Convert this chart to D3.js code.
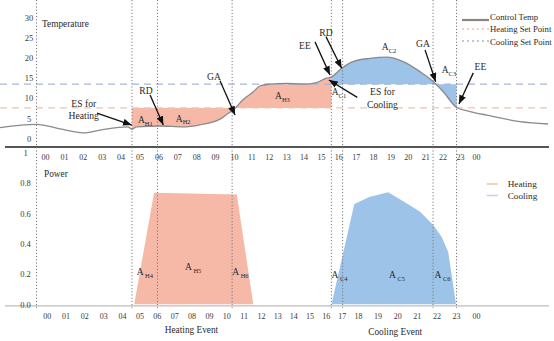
<!DOCTYPE html>
<html>
<head>
<meta charset="utf-8">
<script src="https://cdn.jsdelivr.net/npm/d3@7"></script>
<style>
  html, body { margin: 0; padding: 0; background: #fff; }
  svg { display: block; font-family: "Liberation Serif", "DejaVu Serif", serif; }
</style>
</head>
<body>
<svg id="chart" width="554" height="341"></svg>
<script>
// ---- data ----------------------------------------------------------
// Control temperature over the day (hour of day, temperature)
const tempHours  = [-2.38, -0.44, 0.79, 2.01, 2.91, 4.39, 4.60, 4.85, 6.08, 7.30, 8.20, 9.26, 9.68, 9.96,
                    10.53, 11.11, 11.50, 12.07, 13.03, 13.99, 14.75, 15.33, 15.57, 16.18, 16.85, 17.81,
                    18.78, 19.73, 20.70, 21.47, 22.04, 22.81, 23.63, 24.67, 26.75, 28.50];
const tempValues = [2.7, 3.5, 2.4, 1.4, 2.1, 2.9, 2.3, 2.9, 3.1, 2.9, 3.4, 4.8, 6.2, 7.1,
                    9.7, 11.6, 13.1, 13.5, 13.7, 13.5, 13.9, 15.0, 15.2, 17.4, 19.1, 19.9,
                    20.2, 19.1, 16.6, 14.1, 11.6, 7.7, 6.7, 5.8, 4.2, 3.6];
const heatingSetPoint = 7.6;
const coolingSetPoint = 13.5;

// Event boundaries (hours): axis, ES/RD/GA for heating, EE/RD for cooling, GA, EE
const eventHours = [-0.45, 4.6, 5.95, 9.9, 15.6, 16.25, 21.45, 22.8];
const heatingSpan = [4.6, 15.6];
const coolingSpan = [15.6, 22.8];

// Power draw of the heating and cooling events
const heatHours  = [4.72, 5.77, 10.16, 11.11];
const heatPower  = [0, 0.735, 0.724, 0];
const coolHours  = [15.61, 16.92, 17.82, 18.87, 19.92, 20.69, 21.46, 21.94, 22.32, 22.77];
const coolPower  = [0, 0.662, 0.710, 0.739, 0.667, 0.612, 0.523, 0.446, 0.347, 0];

// Tick labels
const hourTicks  = d3.range(0, 25);
const tempTicks  = [0, 5, 10, 15, 20, 25, 30];
const powerTicks = [0, 0.2, 0.4, 0.6, 0.8, 1];

// Area labels: [main, subscript, hour, value]
const tempAreaLabels = [
  ["A", "H1", 4.92, 4.6], ["A", "H2", 6.92, 5.0], ["A", "H3", 12.36, 10.6],
  ["A", "C1", 15.62, 11.6], ["A", "C2", 18.5, 22.8], ["A", "C3", 21.95, 17.0]
];
const powerAreaLabels = [
  ["A", "H4", 4.85, 0.213], ["A", "H5", 7.41, 0.248], ["A", "H6", 9.91, 0.215],
  ["A", "C4", 15.61, 0.193], ["A", "C5", 18.92, 0.193], ["A", "C6", 21.54, 0.193]
];

// Arrow annotations on the temperature panel
const annotations = [
  { text: ["ES for", "Heating"], x: 2.05,  y: [8.6, 5.8],  from: [2.75, 6.3],   to: [4.59, 3.35] },
  { text: ["RD"],                x: 5.34,  y: [12.0],      from: [5.56, 10.8],  to: [6.26, 3.35] },
  { text: ["GA"],                x: 8.94,  y: [15.35],     from: [9.26, 14.35], to: [10.06, 5.84] },
  { text: ["EE"],                x: 14.08, y: [22.97],     from: [14.66, 24.0], to: [15.52, 15.77] },
  { text: ["RD"],                x: 15.29, y: [26.37],     from: [15.29, 25.3], to: [16.19, 17.43] },
  { text: ["ES for", "Cooling"], x: 18.54, y: [11.6, 8.3], from: [17.09, 10.2], to: [15.46, 14.53] },
  { text: ["GA"],                x: 20.87, y: [23.64],     from: [20.99, 22.0], to: [21.6, 14.1] },
  { text: ["EE"],                x: 24.28, y: [17.83],     from: [23.83, 16.3], to: [22.94, 8.57] }
];

// ---- scales --------------------------------------------------------
const W = 554, H = 341;
const FONT = "'Liberation Serif', 'DejaVu Serif', serif";
const xTime   = d3.scaleLinear().domain([0, 10, 23, 24]).range([45, 234, 460, 476]);
const xBottom = d3.scaleLinear().domain([0, 4, 12, 18, 23, 24]).range([46.7, 122, 261, 358, 456, 476]);
const yTemp   = d3.scaleLinear().domain([0, 30]).range([138.5, 17.7]);
const yPow    = d3.scaleLinear().domain([0, 1]).range([304.3, 152.7]);

const C = {
  heatFill: "#f6b9a8",
  coolFill: "#9dc4e8",
  heatSet: "#f3c1b1",
  coolSet: "#aab4da",
  curve: "#8a8a8a",
  text: "#2a2a2a",
  tick: "#3a3a3a"
};

const svg = d3.select("#chart");
const hourFmt = h => String(h % 24).padStart(2, "0");

const defs = svg.append("defs");
defs.append("marker")
  .attr("id", "arrow").attr("viewBox", "0 0 10 8")
  .attr("refX", 10).attr("refY", 4)
  .attr("markerWidth", 9).attr("markerHeight", 7)
  .attr("markerUnits", "userSpaceOnUse")
  .attr("orient", "auto")
  .append("path").attr("d", "M0,0 L10,4 L0,8 Z").attr("fill", "#111");

function clipSpan(id, span) {
  defs.append("clipPath").attr("id", id)
    .append("rect")
    .attr("x", xTime(span[0])).attr("y", 0)
    .attr("width", xTime(span[1]) - xTime(span[0])).attr("height", H);
}
clipSpan("clip-heat", heatingSpan);
clipSpan("clip-cool", coolingSpan);

// ---- temperature panel --------------------------------------------
const tempData = tempHours.map((h, i) => ({ h, v: tempValues[i] }));

const areaTo = sp => d3.area()
  .x(d => xTime(d.h))
  .y0(yTemp(sp))
  .y1(d => yTemp(d.v))
  .curve(d3.curveMonotoneX);

svg.append("path").datum(tempData)
  .attr("d", areaTo(heatingSetPoint))
  .attr("fill", C.heatFill)
  .attr("clip-path", "url(#clip-heat)");
svg.append("path").datum(tempData)
  .attr("d", areaTo(coolingSetPoint))
  .attr("fill", C.coolFill)
  .attr("clip-path", "url(#clip-cool)");

// set point lines
const xExt = d3.extent(tempHours);
[[heatingSetPoint, C.heatSet], [coolingSetPoint, C.coolSet]].forEach(([sp, col]) => {
  svg.append("line")
    .attr("x1", xTime(xExt[0])).attr("x2", xTime(xExt[1]) + 2)
    .attr("y1", yTemp(sp)).attr("y2", yTemp(sp))
    .attr("stroke", col).attr("stroke-width", 1.4)
    .attr("stroke-dasharray", "7,5");
});

// control temperature curve
svg.append("path").datum(tempData)
  .attr("d", d3.line().x(d => xTime(d.h)).y(d => yTemp(d.v)).curve(d3.curveMonotoneX))
  .attr("fill", "none").attr("stroke", C.curve).attr("stroke-width", 1.3);

// panel baselines
const tempBase = yTemp(-2.1);
svg.append("line").attr("x1", 5).attr("x2", 549).attr("y1", tempBase).attr("y2", tempBase)
  .attr("stroke", "#555").attr("stroke-width", 2);

// ---- power panel --------------------------------------------------
const powArea = d3.area().x(d => xTime(d.h)).y0(yPow(0)).y1(d => yPow(d.p));
svg.append("path").datum(heatHours.map((h, i) => ({ h, p: heatPower[i] })))
  .attr("d", powArea).attr("fill", C.heatFill);
svg.append("path").datum(coolHours.map((h, i) => ({ h, p: coolPower[i] })))
  .attr("d", powArea).attr("fill", C.coolFill);

svg.append("line").attr("x1", 5).attr("x2", 549)
  .attr("y1", yPow(-0.01)).attr("y2", yPow(-0.01))
  .attr("stroke", "#bdbdbd").attr("stroke-width", 1.2);

// event lines through both panels
svg.append("g").selectAll("line").data(eventHours).join("line")
  .attr("x1", d => xTime(d)).attr("x2", d => xTime(d))
  .attr("y1", 0).attr("y2", 308)
  .attr("stroke", "#7a7a7a").attr("stroke-width", 1)
  .attr("stroke-dasharray", "1.2,2");

// ---- axes ---------------------------------------------------------
function styleAxis(g, size) {
  g.select(".domain").remove();
  g.attr("font-family", FONT);
  g.selectAll("text").attr("fill", C.tick).attr("font-size", size)
    .attr("font-family", FONT);
}
svg.append("g").attr("transform", "translate(0,154)")
  .call(d3.axisBottom(xTime).tickValues(hourTicks).tickFormat(hourFmt).tickSize(0).tickPadding(0))
  .call(g => styleAxis(g, 8));
svg.append("g").attr("transform", "translate(0,313)")
  .call(d3.axisBottom(xBottom).tickValues(hourTicks).tickFormat(hourFmt).tickSize(0).tickPadding(0))
  .call(g => styleAxis(g, 8));
svg.append("g").attr("transform", "translate(29,0)")
  .call(d3.axisLeft(yTemp).tickValues(tempTicks).tickFormat(d3.format("d")).tickSize(0).tickPadding(0))
  .call(g => { styleAxis(g, 8.5); g.selectAll("text").attr("text-anchor", "middle"); });
svg.append("g").attr("transform", "translate(25.5,0)")
  .call(d3.axisLeft(yPow).tickValues(powerTicks).tickFormat(d => d === 1 ? "1" : d3.format(".1f")(d)).tickSize(0).tickPadding(0))
  .call(g => { styleAxis(g, 8.5); g.selectAll("text").attr("text-anchor", "middle"); });

// ---- titles -------------------------------------------------------
const txt = (x, y, s, size, anchor = "start") => svg.append("text")
  .attr("x", x).attr("y", y).attr("dy", "0.35em")
  .attr("font-family", FONT)
  .attr("font-size", size).attr("fill", C.text).attr("text-anchor", anchor).text(s);

txt(42, 24, "Temperature", 9.3);
txt(44, 174, "Power", 9.3);
txt(xBottom(8), 330, "Heating Event", 9.3, "middle");
txt(xBottom(19.9), 331.5, "Cooling Event", 9.3, "middle");

// ---- area labels --------------------------------------------------
function areaLabel(d, xs, ys, gap) {
  const t = svg.append("text")
    .attr("x", xs(d[2])).attr("y", ys(d[3])).attr("dy", "0.35em")
    .attr("font-family", FONT)
    .attr("font-size", 9.5).attr("fill", C.text);
  t.append("tspan").text(d[0]);
  t.append("tspan").attr("dx", gap).attr("dy", 2.6).attr("font-size", 6.5).text(d[1]);
}
tempAreaLabels.forEach(d => areaLabel(d, xTime, yTemp, 0));
powerAreaLabels.forEach(d => areaLabel(d, xTime, yPow, 1.5));

// ---- arrow annotations ---------------------------------------------
annotations.forEach(a => {
  svg.append("line")
    .attr("x1", xTime(a.from[0])).attr("y1", yTemp(a.from[1]))
    .attr("x2", xTime(a.to[0])).attr("y2", yTemp(a.to[1]))
    .attr("stroke", "#111").attr("stroke-width", 1.3)
    .attr("marker-end", "url(#arrow)");
  a.text.forEach((s, i) => txt(xTime(a.x), yTemp(a.y[i]), s, 9.6, "middle"));
});

// ---- legends --------------------------------------------------------
const legTop = [
  { label: "Control Temp",      y: 17,   color: "#8c8282", dash: null,  width: 2.2, ly: 20 },
  { label: "Heating Set Point", y: 29.3, color: C.heatSet, dash: "2,3", width: 1.6, ly: 29 },
  { label: "Cooling Set Point", y: 41.7, color: C.coolSet, dash: "2,3", width: 1.6, ly: 41 }
];
legTop.forEach(d => {
  svg.append("line").attr("x1", 462).attr("x2", 489).attr("y1", d.ly).attr("y2", d.ly)
    .attr("stroke", d.color).attr("stroke-width", d.width)
    .attr("stroke-dasharray", d.dash);
  txt(490, d.y, d.label, 8.7);
});
[["Heating", 184, "#f6c2b2"], ["Cooling", 195.5, "#c9d1e6"]].forEach(([label, y, col]) => {
  svg.append("line").attr("x1", 486.7).attr("x2", 497.7).attr("y1", y).attr("y2", y)
    .attr("stroke", col).attr("stroke-width", 1.6);
  txt(507.7, y, label, 9.2);
});
</script>
</body>
</html>
